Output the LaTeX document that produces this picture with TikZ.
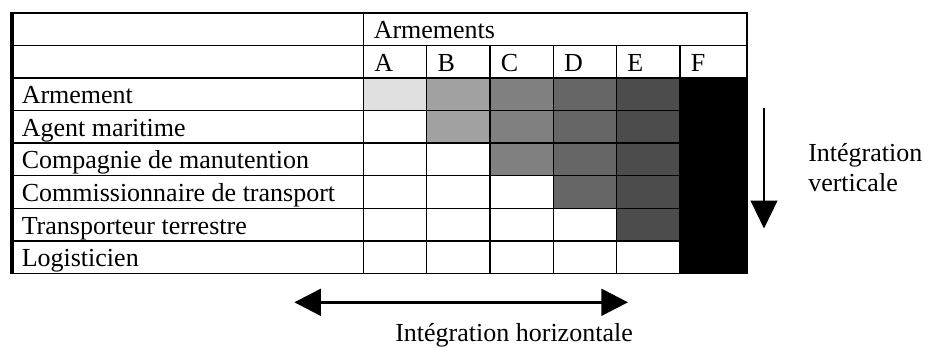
\documentclass[tikz,border=0pt]{standalone}
\usepackage{fontspec}
\setmainfont{Liberation Serif}
\usetikzlibrary{arrows.meta}
\begin{document}
\begin{tikzpicture}[x=0.75pt,y=-0.75pt,
  lbl/.style={anchor=base west, inner sep=0pt, font=\fontsize{19.5}{23}\selectfont},
  gridline/.style={line width=1pt, draw=black},
  frame/.style={line width=1.3pt, draw=black},
  harrow/.style={line width=2.3pt, {Triangle[length=20pt,width=20pt]}-{Triangle[length=20pt,width=20pt]}},
  varrow/.style={line width=1.8pt, -{Triangle[length=21pt,width=20pt]}}
]
\useasboundingbox (0,0) rectangle (938,347);
% column and row positions
\def\colx{{11,363.3,426.7,490,553.3,616.7,680,746.7}}
\definecolor{cA}{gray}{0.88}
\definecolor{cB}{gray}{0.63}
\definecolor{cC}{gray}{0.50}
\definecolor{cD}{gray}{0.40}
\definecolor{cE}{gray}{0.30}
\definecolor{cF}{gray}{0.0}
% fills
\foreach \i in {0,...,5}{
  \foreach \j/\c in {0/cA,1/cB,2/cC,3/cD,4/cE,5/cF}{
    \ifnum\j<\i\relax\else
      \pgfmathsetmacro{\xl}{\colx[\j+1]}
      \pgfmathsetmacro{\xr}{\colx[\j+2]}
      \pgfmathsetmacro{\yt}{12.7+(\i+2)*32.6}
      \pgfmathsetmacro{\yb}{12.7+(\i+3)*32.6}
      \fill[\c] (\xl,\yt) rectangle (\xr,\yb);
    \fi
  }
}
% horizontal grid lines
\foreach \k in {1,...,7}{
  \draw[gridline] (11,{12.7+\k*32.6}) -- (746.7,{12.7+\k*32.6});
}
% vertical grid lines
\draw[gridline] (363.3,12.7) -- (363.3,273.5);
\foreach \xx in {426.7,490,553.3,616.7,680}{
  \draw[gridline] (\xx,45.3) -- (\xx,273.5);
}
\draw[frame] (11,12.7) rectangle (746.7,273.5);
\draw[frame] (12.8,12.7) -- (12.8,273.5);
% header texts
\node[lbl] (hdr) at (373.5,38.3) {Armements};
\node[lbl] (colA) at (374,71) {A};
\node[lbl] (colB) at (437.3,71) {B};
\node[lbl] (colC) at (500.6,71) {C};
\node[lbl] (colD) at (563.9,71) {D};
\node[lbl] (colE) at (627.2,71) {E};
\node[lbl] (colF) at (690.5,71) {F};
% row labels
\node[lbl] (r1) at (21.5,103.6) {Armement};
\node[lbl] (r2) at (21.5,136.2) {Agent maritime};
\node[lbl] (r3) at (21.5,168.8) {Compagnie de manutention};
\node[lbl] (r4) at (21.5,201.4) {Commissionnaire de transport};
\node[lbl] (r5) at (21.5,234.0) {Transporteur terrestre};
\node[lbl] (r6) at (21.5,266.6) {Logisticien};
% arrows
\coordinate (hL) at (294.3,302.3);
\coordinate (hR) at (628,302.3);
\draw[harrow] (hL) -- (hR);
\coordinate (vT) at (764,108.3);
\coordinate (vB) at (764,228.5);
\draw[varrow] (vT) -- (vB);
% arrow labels
\node[lbl] (vtxt1) at (808,161.7) {Intégration};
\node[lbl] (vtxt2) at (808,191.7) {verticale};
\node[lbl] (htxt) at (395,341.3) {Intégration horizontale};
\end{tikzpicture}
\end{document}
